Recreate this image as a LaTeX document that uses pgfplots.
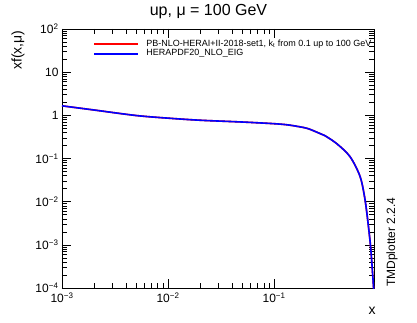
\documentclass[border=0pt]{standalone}
\usepackage{fontspec}
\setmainfont{Liberation Sans}
\usepackage{pgfplots}
\pgfplotsset{compat=1.18}
\pgfplotsset{
  /pgfplots/legend image code/.code={\draw[#1, line width=1.6pt] (0pt,0pt) -- (44pt,0pt);}
}
\begin{document}
\begin{tikzpicture}
\path[use as bounding box] (-62pt,-35pt) rectangle (355pt,288pt);
\begin{axis}[
  scale only axis, width=312.3pt, height=259pt,
  anchor=south west, at={(0pt,0pt)},
  xmode=log, ymode=log,
  xmin=1e-3, xmax=0.88, ymin=1e-4, ymax=1e2,
  xtick={1e-3,1e-2,1e-1},
  xticklabels={10\textsuperscript{−3},10\textsuperscript{−2},10\textsuperscript{−1}},
  ytick={1e-4,1e-3,1e-2,1e-1,1,10,100},
  yticklabels={10\textsuperscript{−4},10\textsuperscript{−3},10\textsuperscript{−2},10\textsuperscript{−1},1,10,10\textsuperscript{2}},
  tick label style={font=\fontsize{12}{12}\selectfont},
  xticklabel style={yshift=-1.5pt},
  major tick length=9pt, minor tick length=5pt,
  tick align=inside, tick pos=both,
  axis line style={line width=0.8pt},
  every tick/.style={black, line width=0.6pt},
  clip=true,
  legend style={at={(0.0993,0.962)}, anchor=north west, draw=none, fill=none,
     font=\fontsize{9}{9}\selectfont, row sep=0pt, inner sep=0pt,
     nodes={inner sep=0.5pt, text height=6.6pt, text depth=2.2pt}, column sep=7pt},
  legend cell align=left,
]
\addplot[red, line width=1.6pt, smooth] coordinates {
(0.001,1.66) (0.002,1.33) (0.005,0.99) (0.01,0.86) (0.02,0.77) (0.05,0.70)
(0.1,0.64) (0.135,0.60) (0.176,0.54) (0.21,0.49) (0.27,0.38) (0.30,0.34)
(0.39,0.22) (0.52,0.11) (0.647,0.038) (0.72,0.011) (0.776,0.0026)
(0.817,7.6e-4) (0.865,1.07e-4) (0.88,5e-5)};
\addlegendentry{PB-NLO-HERAI+II-2018-set1, k\textsubscript{t} from 0.1 up to 100 GeV}
\addplot[blue, line width=1.6pt, smooth] coordinates {
(0.001,1.66) (0.002,1.33) (0.005,0.99) (0.01,0.86) (0.02,0.77) (0.05,0.70)
(0.1,0.64) (0.135,0.60) (0.176,0.54) (0.21,0.49) (0.27,0.38) (0.30,0.34)
(0.39,0.22) (0.52,0.11) (0.647,0.038) (0.72,0.011) (0.776,0.0026)
(0.817,7.6e-4) (0.865,1.07e-4) (0.88,5e-5)};
\addlegendentry{HERAPDF20\_NLO\_EIG}
\end{axis}
\node[font=\fontsize{16}{16}\selectfont] at (146.5pt,276pt) {up, μ = 100 GeV};
\node[font=\fontsize{14}{14}\selectfont, rotate=90, anchor=east] at (-44pt,261pt) {xf(x,μ)};
\node[font=\fontsize{14}{14}\selectfont] at (310pt,-23pt) {x};
\node[font=\fontsize{12}{12}\selectfont, rotate=90, anchor=west, inner sep=0pt] at (330pt,1pt) {TMDplotter 2.2.4};
\end{tikzpicture}
\end{document}
